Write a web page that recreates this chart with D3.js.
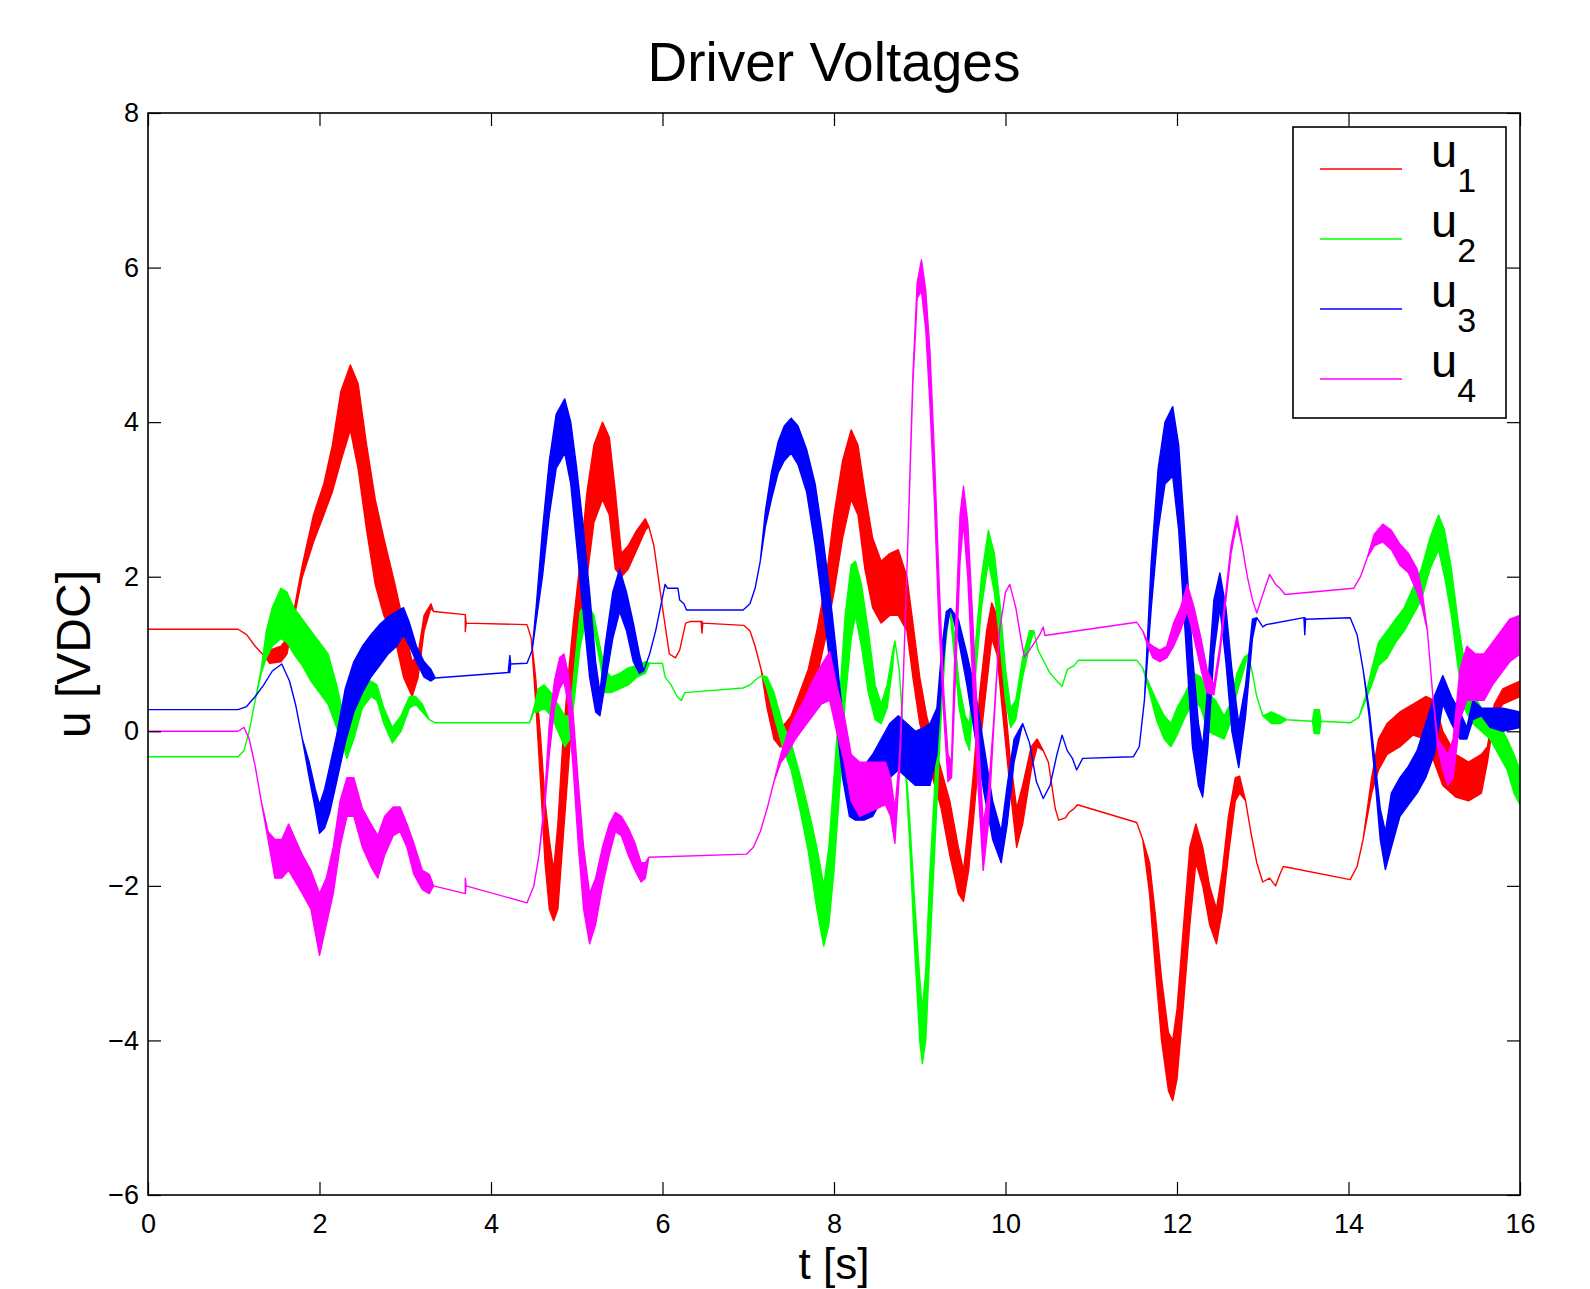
<!DOCTYPE html>
<html>
<head>
<meta charset="utf-8">
<script src="https://cdn.jsdelivr.net/npm/d3@7"></script>
<style>
  body { margin: 0; background: #fff; }
  svg { display: block; font-family: "Liberation Sans", Arial, Helvetica, sans-serif; }
</style>
</head>
<body>
<svg id="chart" width="1590" height="1289"></svg>
<script>
// Each sample is [t, low, high]: where the signal is a thin line low == high,
// where it chatters the two give the envelope of the band.
const u1 = [
  [0, 1.32, 1.32], [1.05, 1.32, 1.32], [1.15, 1.25, 1.25], [1.25, 1.1, 1.1], [1.35, 0.98, 0.98],
  [1.42, 0.88, 1.05], [1.55, 0.9, 1.1], [1.62, 1.0, 1.2], [1.7, 1.45, 1.55], [1.8, 2.0, 2.15],
  [1.93, 2.45, 2.8], [2.05, 2.8, 3.2], [2.15, 3.1, 3.7], [2.25, 3.5, 4.4], [2.36, 3.9, 4.74],
  [2.45, 3.4, 4.5], [2.55, 2.6, 3.7], [2.65, 1.9, 3.0], [2.75, 1.5, 2.5], [2.88, 1.2, 1.9],
  [2.98, 0.7, 1.4], [3.08, 0.45, 0.9], [3.15, 0.7, 1.0], [3.22, 1.3, 1.5], [3.3, 1.6, 1.65],
  [3.33, 1.55, 1.55], [3.7, 1.51, 1.51], [3.7, 1.29, 1.51], [3.71, 1.4, 1.4], [4.42, 1.38, 1.38],
  [4.47, 1.2, 1.2], [4.52, 0.4, 0.7], [4.58, -0.7, -0.1], [4.63, -1.7, -0.9], [4.68, -2.3, -1.4],
  [4.73, -2.45, -1.8], [4.78, -2.3, -1.2], [4.84, -1.4, -0.1], [4.9, -0.5, 0.7], [4.96, 0.4, 1.4],
  [5.04, 1.2, 2.2], [5.12, 2.0, 3.1], [5.2, 2.7, 3.7], [5.3, 3.0, 4.0], [5.38, 2.8, 3.8],
  [5.45, 2.1, 3.1], [5.52, 2.0, 2.3], [5.6, 2.1, 2.4], [5.7, 2.35, 2.6], [5.8, 2.6, 2.75],
  [5.84, 2.65, 2.65], [5.9, 2.4, 2.4], [6.0, 1.6, 1.6], [6.08, 1.0, 1.0], [6.15, 0.95, 0.95],
  [6.2, 1.05, 1.05], [6.27, 1.4, 1.4], [6.32, 1.42, 1.42], [6.45, 1.42, 1.42], [6.46, 1.27, 1.42],
  [6.47, 1.4, 1.4], [6.95, 1.37, 1.37], [7.02, 1.3, 1.3], [7.08, 1.1, 1.1], [7.15, 0.8, 0.8],
  [7.22, 0.3, 0.5], [7.3, -0.1, 0.2], [7.37, -0.2, 0.05], [7.43, -0.2, 0.1], [7.5, -0.05, 0.2],
  [7.6, 0.1, 0.5], [7.7, 0.35, 0.8], [7.8, 0.7, 1.3], [7.9, 1.2, 1.9], [8.0, 1.8, 2.8],
  [8.1, 2.5, 3.5], [8.2, 3.0, 3.9], [8.28, 2.8, 3.7], [8.36, 2.1, 3.1], [8.45, 1.6, 2.5],
  [8.55, 1.4, 2.2], [8.65, 1.5, 2.3], [8.75, 1.5, 2.35], [8.85, 1.3, 2.0], [8.92, 0.7, 1.4],
  [9.0, 0.1, 0.7], [9.08, -0.2, 0.2], [9.15, -0.6, -0.1], [9.25, -1.0, -0.5], [9.35, -1.6, -0.9],
  [9.45, -2.1, -1.5], [9.51, -2.2, -1.8], [9.57, -1.8, -1.2], [9.63, -1.1, -0.5], [9.7, -0.2, 0.5],
  [9.78, 0.6, 1.3], [9.84, 1.2, 1.66], [9.9, 1.0, 1.5], [9.97, 0.2, 0.7], [10.05, -0.7, -0.3],
  [10.13, -1.5, -1.0], [10.2, -1.2, -0.7], [10.3, -0.5, -0.2], [10.37, -0.2, -0.1], [10.44, -0.25, -0.25],
  [10.5, -0.4, -0.4], [10.58, -1.0, -1.0], [10.62, -1.15, -1.15], [10.7, -1.12, -1.12], [10.74, -1.05, -1.05],
  [10.8, -1.0, -1.0], [10.84, -0.95, -0.95], [11.53, -1.18, -1.18], [11.6, -1.4, -1.4], [11.68, -2.1, -1.7],
  [11.75, -3.1, -2.4], [11.82, -4.0, -3.2], [11.9, -4.65, -3.9], [11.95, -4.78, -4.0], [12.0, -4.5, -3.6],
  [12.07, -3.6, -2.6], [12.15, -2.5, -1.5], [12.22, -1.7, -1.2], [12.3, -2.0, -1.5], [12.38, -2.5, -2.0],
  [12.46, -2.75, -2.3], [12.53, -2.3, -1.8], [12.6, -1.6, -1.1], [12.68, -0.9, -0.6], [12.73, -0.8, -0.58],
  [12.8, -0.9, -0.9], [12.86, -1.3, -1.3], [12.93, -1.7, -1.7], [13.0, -1.95, -1.95], [13.08, -1.9, -1.9],
  [13.15, -2.0, -2.0], [13.2, -1.85, -1.85], [13.24, -1.75, -1.75], [14.02, -1.92, -1.92], [14.1, -1.75, -1.75],
  [14.17, -1.4, -1.4], [14.22, -1.1, -1.0], [14.27, -0.8, -0.6], [14.35, -0.5, -0.1], [14.45, -0.3, 0.1],
  [14.6, -0.2, 0.25], [14.75, -0.05, 0.35], [14.9, -0.1, 0.45], [15.0, -0.4, 0.4], [15.1, -0.7, 0.0],
  [15.25, -0.85, -0.3], [15.4, -0.9, -0.4], [15.55, -0.8, -0.3], [15.62, -0.4, -0.2], [15.7, 0.2, 0.35],
  [15.8, 0.35, 0.55], [15.9, 0.4, 0.6], [16.0, 0.45, 0.65]
];

const u2 = [
  [0, -0.33, -0.33], [1.05, -0.33, -0.33], [1.12, -0.25, -0.25], [1.18, 0.0, 0.0], [1.25, 0.4, 0.4],
  [1.32, 0.75, 0.8], [1.38, 0.95, 1.3], [1.45, 1.1, 1.6], [1.55, 1.2, 1.85], [1.62, 1.15, 1.8],
  [1.7, 1.0, 1.6], [1.8, 0.85, 1.45], [1.9, 0.65, 1.3], [2.0, 0.5, 1.15], [2.1, 0.35, 1.0],
  [2.2, 0.05, 0.6], [2.28, -0.2, 0.2], [2.32, -0.35, 0.0], [2.4, -0.1, 0.3], [2.5, 0.3, 0.55],
  [2.6, 0.45, 0.65], [2.67, 0.4, 0.6], [2.75, 0.1, 0.3], [2.85, -0.15, 0.05], [2.95, 0.0, 0.2],
  [3.05, 0.3, 0.45], [3.12, 0.35, 0.45], [3.2, 0.25, 0.35], [3.28, 0.15, 0.15], [3.35, 0.11, 0.11],
  [4.45, 0.11, 0.11], [4.5, 0.25, 0.3], [4.55, 0.25, 0.55], [4.62, 0.3, 0.6], [4.7, 0.2, 0.5],
  [4.78, 0.0, 0.35], [4.86, -0.2, 0.2], [4.92, -0.1, 0.2], [4.98, 0.5, 0.9], [5.04, 1.1, 1.55],
  [5.12, 1.5, 1.67], [5.2, 1.3, 1.5], [5.27, 0.9, 1.1], [5.33, 0.5, 0.8], [5.4, 0.5, 0.7],
  [5.5, 0.55, 0.75], [5.6, 0.6, 0.82], [5.7, 0.7, 0.85], [5.8, 0.75, 0.9], [5.85, 0.88, 0.88],
  [6.0, 0.88, 0.88], [6.03, 0.7, 0.7], [6.1, 0.6, 0.6], [6.17, 0.45, 0.45], [6.22, 0.4, 0.4],
  [6.26, 0.5, 0.5], [6.94, 0.56, 0.56], [7.02, 0.6, 0.6], [7.1, 0.68, 0.68], [7.16, 0.72, 0.72],
  [7.22, 0.55, 0.7], [7.3, 0.2, 0.5], [7.4, -0.2, 0.1], [7.5, -0.5, -0.15], [7.6, -1.0, -0.55],
  [7.7, -1.55, -1.0], [7.8, -2.3, -1.5], [7.88, -2.78, -2.0], [7.94, -2.5, -1.5], [8.0, -1.8, -0.6],
  [8.07, -0.7, 0.5], [8.13, 0.4, 1.5], [8.2, 1.2, 2.15], [8.25, 1.5, 2.2], [8.32, 1.1, 1.9],
  [8.4, 0.5, 1.3], [8.48, 0.15, 0.6], [8.55, 0.1, 0.35], [8.62, 0.3, 0.6], [8.68, 0.8, 1.0],
  [8.71, 1.17, 1.17], [8.76, 0.8, 0.8], [8.82, -0.2, -0.2], [8.88, -1.4, -1.1], [8.94, -2.8, -2.2],
  [9.0, -4.0, -3.2], [9.03, -4.3, -3.6], [9.07, -4.0, -3.1], [9.12, -2.8, -1.8], [9.18, -1.4, -0.6],
  [9.24, 0.0, 0.6], [9.3, 1.1, 1.45], [9.35, 1.59, 1.59], [9.4, 1.0, 1.3], [9.46, 0.3, 0.6],
  [9.53, -0.1, 0.2], [9.58, -0.25, 0.1], [9.64, 0.6, 1.0], [9.72, 1.6, 2.0], [9.8, 2.2, 2.6],
  [9.87, 1.8, 2.3], [9.94, 1.1, 1.6], [10.0, 0.4, 0.8], [10.06, 0.05, 0.3], [10.12, 0.15, 0.4],
  [10.2, 0.7, 0.95], [10.28, 1.1, 1.3], [10.33, 1.3, 1.3], [10.38, 1.05, 1.05], [10.45, 0.9, 0.9],
  [10.52, 0.75, 0.75], [10.6, 0.65, 0.65], [10.66, 0.58, 0.58], [10.72, 0.8, 0.8], [10.8, 0.85, 0.85],
  [10.85, 0.92, 0.92], [11.53, 0.92, 0.92], [11.6, 0.82, 0.82], [11.68, 0.5, 0.6], [11.76, 0.15, 0.4],
  [11.85, -0.1, 0.2], [11.93, -0.2, 0.1], [12.0, -0.05, 0.3], [12.1, 0.2, 0.5], [12.2, 0.4, 0.75],
  [12.28, 0.3, 0.7], [12.36, 0.0, 0.5], [12.45, -0.05, 0.4], [12.55, -0.1, 0.2], [12.62, 0.1, 0.35],
  [12.7, 0.5, 0.75], [12.78, 0.8, 0.95], [12.83, 1.0, 1.0], [12.88, 0.75, 0.75], [12.93, 0.45, 0.45],
  [13.0, 0.2, 0.2], [13.1, 0.1, 0.25], [13.2, 0.1, 0.2], [13.28, 0.15, 0.15], [13.58, 0.13, 0.13],
  [13.6, -0.03, 0.28], [13.66, -0.03, 0.28], [13.68, 0.13, 0.13], [14.02, 0.11, 0.11], [14.12, 0.18, 0.18],
  [14.2, 0.4, 0.45], [14.27, 0.6, 0.8], [14.35, 0.85, 1.15], [14.45, 0.95, 1.3], [14.55, 1.15, 1.45],
  [14.65, 1.3, 1.6], [14.75, 1.5, 1.85], [14.85, 1.7, 2.1], [14.95, 2.1, 2.5], [15.05, 2.35, 2.8],
  [15.12, 2.0, 2.6], [15.2, 1.5, 2.1], [15.28, 0.8, 1.4], [15.35, 0.3, 0.9], [15.45, 0.1, 0.5],
  [15.55, 0.0, 0.3], [15.65, -0.1, 0.2], [15.75, -0.3, 0.1], [15.85, -0.5, -0.1], [15.93, -0.8, -0.3],
  [16.0, -0.95, -0.5]
];

const u3 = [
  [0, 0.28, 0.28], [1.05, 0.28, 0.28], [1.15, 0.32, 0.32], [1.25, 0.45, 0.45], [1.35, 0.6, 0.6],
  [1.45, 0.78, 0.78], [1.56, 0.87, 0.87], [1.65, 0.65, 0.65], [1.72, 0.35, 0.35], [1.8, -0.1, -0.1],
  [1.88, -0.6, -0.4], [1.95, -1.0, -0.75], [2.0, -1.32, -0.95], [2.06, -1.25, -0.75], [2.12, -1.05, -0.45],
  [2.2, -0.65, -0.05], [2.3, -0.15, 0.55], [2.4, 0.25, 0.9], [2.5, 0.5, 1.1], [2.6, 0.7, 1.25],
  [2.7, 0.85, 1.38], [2.8, 1.0, 1.48], [2.9, 1.1, 1.55], [2.98, 1.25, 1.6], [3.05, 1.1, 1.4],
  [3.13, 0.9, 1.1], [3.22, 0.7, 0.9], [3.3, 0.65, 0.8], [3.35, 0.69, 0.69], [4.2, 0.76, 0.76],
  [4.22, 0.76, 0.98], [4.23, 0.87, 0.87], [4.42, 0.88, 0.88], [4.48, 1.05, 1.05], [4.53, 1.45, 1.65],
  [4.6, 2.0, 2.6], [4.68, 2.8, 3.5], [4.76, 3.4, 4.1], [4.86, 3.6, 4.3], [4.93, 3.2, 4.0],
  [5.0, 2.4, 3.4], [5.07, 1.6, 2.7], [5.15, 0.7, 1.8], [5.22, 0.25, 0.9], [5.27, 0.2, 0.5],
  [5.33, 0.6, 1.1], [5.42, 1.2, 1.8], [5.5, 1.55, 2.1], [5.58, 1.3, 1.8], [5.66, 0.9, 1.4],
  [5.73, 0.75, 1.0], [5.78, 0.78, 0.78], [5.85, 1.0, 1.0], [5.92, 1.3, 1.3], [5.97, 1.57, 1.57],
  [6.03, 1.9, 1.9], [6.06, 1.85, 1.85], [6.18, 1.85, 1.85], [6.2, 1.7, 1.7], [6.25, 1.65, 1.65],
  [6.28, 1.57, 1.57], [6.94, 1.57, 1.57], [7.02, 1.65, 1.65], [7.08, 1.85, 1.85], [7.14, 2.2, 2.2],
  [7.2, 2.65, 2.85], [7.27, 3.0, 3.35], [7.35, 3.35, 3.75], [7.42, 3.5, 3.95], [7.5, 3.6, 4.05],
  [7.58, 3.45, 3.95], [7.68, 3.1, 3.65], [7.78, 2.4, 3.2], [7.86, 1.7, 2.6], [7.94, 1.0, 1.9],
  [8.02, 0.2, 1.1], [8.1, -0.6, 0.2], [8.18, -1.1, -0.4], [8.25, -1.15, -0.5], [8.35, -1.15, -0.45],
  [8.45, -1.1, -0.3], [8.55, -0.9, -0.1], [8.65, -0.6, 0.1], [8.75, -0.5, 0.2], [8.85, -0.6, 0.1],
  [8.95, -0.7, 0.0], [9.05, -0.7, 0.05], [9.12, -0.7, 0.1], [9.2, -0.3, 0.3], [9.26, 0.7, 1.1],
  [9.31, 1.3, 1.55], [9.36, 1.59, 1.59], [9.45, 1.2, 1.45], [9.55, 0.6, 1.0], [9.65, -0.1, 0.5],
  [9.75, -0.8, -0.2], [9.85, -1.4, -0.9], [9.95, -1.7, -1.3], [10.02, -1.2, -0.7], [10.1, -0.4, -0.1],
  [10.2, 0.1, 0.1], [10.28, -0.15, -0.15], [10.36, -0.65, -0.65], [10.44, -0.87, -0.87], [10.52, -0.7, -0.7],
  [10.6, -0.3, -0.3], [10.66, -0.05, -0.05], [10.72, -0.25, -0.25], [10.78, -0.35, -0.35], [10.83, -0.5, -0.5],
  [10.9, -0.35, -0.35], [11.49, -0.33, -0.33], [11.56, -0.2, -0.2], [11.62, 0.4, 0.4], [11.7, 1.6, 2.2],
  [11.78, 2.6, 3.4], [11.86, 3.2, 4.0], [11.95, 3.3, 4.2], [12.02, 2.6, 3.7], [12.1, 1.2, 2.4],
  [12.18, -0.2, 1.0], [12.25, -0.7, 0.1], [12.3, -0.85, -0.2], [12.36, -0.2, 0.6], [12.43, 1.0, 1.7],
  [12.5, 1.6, 2.05], [12.57, 0.9, 1.6], [12.64, 0.0, 0.8], [12.72, -0.47, 0.1], [12.8, 0.2, 0.6],
  [12.88, 1.2, 1.45], [12.93, 1.47, 1.47], [13.0, 1.35, 1.35], [13.04, 1.38, 1.38], [13.48, 1.47, 1.47],
  [13.49, 1.25, 1.47], [13.5, 1.45, 1.45], [14.02, 1.47, 1.47], [14.1, 1.25, 1.25], [14.17, 0.8, 0.8],
  [14.24, 0.2, 0.3], [14.3, -0.5, -0.3], [14.37, -1.4, -1.0], [14.43, -1.79, -1.3], [14.5, -1.5, -0.8],
  [14.6, -1.1, -0.6], [14.7, -0.95, -0.45], [14.8, -0.8, -0.25], [14.9, -0.6, 0.1], [15.0, -0.3, 0.45],
  [15.1, 0.35, 0.72], [15.2, 0.1, 0.45], [15.3, -0.1, 0.25], [15.38, -0.1, 0.05], [15.45, 0.15, 0.4],
  [15.55, 0.2, 0.3], [15.65, 0.05, 0.3], [15.8, 0.0, 0.3], [16.0, 0.05, 0.25]
];

const u4 = [
  [0, 0.0, 0.0], [1.05, 0.0, 0.0], [1.12, 0.05, 0.05], [1.18, -0.1, -0.1], [1.25, -0.45, -0.45],
  [1.32, -0.9, -0.9], [1.4, -1.4, -1.3], [1.48, -1.9, -1.4], [1.56, -1.9, -1.4], [1.64, -1.8, -1.2],
  [1.72, -1.95, -1.4], [1.8, -2.1, -1.6], [1.9, -2.3, -1.8], [2.0, -2.9, -2.1], [2.08, -2.5, -1.9],
  [2.16, -2.1, -1.5], [2.24, -1.5, -0.9], [2.32, -1.1, -0.6], [2.4, -1.1, -0.6], [2.5, -1.5, -1.0],
  [2.6, -1.75, -1.2], [2.68, -1.9, -1.35], [2.76, -1.6, -1.1], [2.86, -1.35, -0.98], [2.94, -1.3, -0.98],
  [3.02, -1.5, -1.2], [3.1, -1.85, -1.45], [3.2, -2.05, -1.8], [3.28, -2.1, -1.85], [3.33, -2.0, -2.0],
  [3.7, -2.1, -2.1], [3.7, -2.1, -1.9], [3.71, -2.0, -2.0], [4.42, -2.22, -2.22], [4.5, -2.0, -2.0],
  [4.56, -1.6, -1.6], [4.62, -1.05, -0.95], [4.68, -0.3, 0.1], [4.74, 0.3, 0.65], [4.8, 0.55, 0.95],
  [4.85, 0.65, 1.0], [4.9, 0.35, 0.75], [4.96, -0.5, 0.2], [5.02, -1.5, -0.7], [5.08, -2.3, -1.5],
  [5.15, -2.75, -2.1], [5.22, -2.5, -1.9], [5.3, -2.0, -1.5], [5.38, -1.6, -1.2], [5.45, -1.3, -1.05],
  [5.52, -1.35, -1.1], [5.6, -1.6, -1.25], [5.68, -1.8, -1.45], [5.75, -1.95, -1.7], [5.8, -1.9, -1.7],
  [5.84, -1.63, -1.63], [6.98, -1.59, -1.59], [7.06, -1.5, -1.5], [7.14, -1.3, -1.3], [7.22, -1.0, -1.0],
  [7.3, -0.65, -0.65], [7.38, -0.4, -0.3], [7.45, -0.3, -0.05], [7.55, -0.1, 0.2], [7.65, 0.05, 0.4],
  [7.75, 0.2, 0.65], [7.85, 0.35, 0.85], [7.95, 0.4, 1.03], [8.03, 0.0, 0.6], [8.12, -0.4, 0.2],
  [8.2, -0.9, -0.3], [8.3, -1.1, -0.4], [8.4, -1.05, -0.4], [8.5, -1.0, -0.4], [8.6, -0.95, -0.4],
  [8.66, -1.1, -0.6], [8.71, -1.45, -1.0], [8.76, -0.6, -0.4], [8.81, 0.75, 0.75], [8.86, 2.4, 2.4],
  [8.92, 4.5, 4.6], [8.97, 5.6, 5.8], [9.02, 5.7, 6.1], [9.07, 5.2, 5.7], [9.12, 4.2, 4.9],
  [9.17, 3.0, 3.6], [9.22, 1.5, 2.1], [9.28, 0.2, 0.5], [9.33, -0.65, -0.3], [9.37, -0.6, -0.4],
  [9.42, 0.8, 1.4], [9.47, 2.2, 2.8], [9.51, 2.7, 3.17], [9.56, 2.0, 2.7], [9.62, 0.6, 1.4],
  [9.68, -0.7, 0.0], [9.74, -1.8, -1.2], [9.8, -1.2, -0.8], [9.86, 0.0, 0.1], [9.93, 1.3, 1.3],
  [10.0, 1.8, 1.8], [10.05, 1.9, 1.9], [10.12, 1.6, 1.6], [10.18, 1.2, 1.2], [10.22, 0.96, 0.96],
  [10.28, 1.05, 1.05], [10.34, 1.15, 1.15], [10.4, 1.25, 1.25], [10.44, 1.35, 1.35], [10.46, 1.24, 1.24],
  [11.53, 1.41, 1.41], [11.6, 1.3, 1.3], [11.66, 1.1, 1.15], [11.72, 0.95, 1.1], [11.8, 0.9, 1.05],
  [11.88, 0.95, 1.1], [11.96, 1.1, 1.4], [12.04, 1.3, 1.6], [12.12, 1.55, 1.9], [12.2, 1.2, 1.6],
  [12.28, 0.8, 1.2], [12.35, 0.5, 0.8], [12.43, 0.47, 0.6], [12.5, 1.0, 1.1], [12.57, 1.7, 1.8],
  [12.63, 2.3, 2.4], [12.7, 2.7, 2.79], [12.76, 2.4, 2.4], [12.82, 2.0, 2.0], [12.88, 1.7, 1.7],
  [12.93, 1.53, 1.53], [12.98, 1.7, 1.7], [13.04, 1.9, 1.9], [13.08, 2.03, 2.03], [13.15, 1.9, 1.9],
  [13.2, 1.85, 1.85], [13.26, 1.77, 1.77], [14.06, 1.85, 1.85], [14.14, 2.0, 2.0], [14.22, 2.25, 2.25],
  [14.3, 2.4, 2.55], [14.4, 2.45, 2.68], [14.5, 2.35, 2.6], [14.6, 2.15, 2.42], [14.7, 2.05, 2.3],
  [14.8, 1.8, 2.1], [14.86, 1.6, 1.8], [14.92, 1.3, 1.3], [14.98, 0.5, 0.5], [15.04, -0.2, -0.1],
  [15.1, -0.5, -0.2], [15.16, -0.7, -0.3], [15.22, -0.6, -0.1], [15.3, 0.15, 0.8], [15.38, 0.4, 1.1],
  [15.48, 0.4, 1.0], [15.58, 0.4, 1.0], [15.68, 0.6, 1.15], [15.78, 0.75, 1.3], [15.88, 0.9, 1.45],
  [16.0, 1.0, 1.5]
];

const seriesData = [u1, u2, u3, u4];
const seriesSubs = ['1', '2', '3', '4'];
const seriesColors = ['#ff0000', '#00ff00', '#0000ff', '#ff00ff'];
const xTicks = [0, 2, 4, 6, 8, 10, 12, 14, 16];
const yTicks = [-6, -4, -2, 0, 2, 4, 6, 8];

const plot = {left: 148, right: 1520, top: 113, bottom: 1195};
const tickLen = 13;

const svg = d3.select('#chart');

const x = d3.scaleLinear().domain([0, 16]).range([plot.left, plot.right]);
const y = d3.scaleLinear().domain([-6, 8]).range([plot.bottom, plot.top]);

svg.append('rect').attr('width', 1590).attr('height', 1289).attr('fill', '#fff');

svg.append('clipPath').attr('id', 'plot-clip')
  .append('rect')
  .attr('x', plot.left).attr('y', plot.top)
  .attr('width', plot.right - plot.left).attr('height', plot.bottom - plot.top);

// bands and lines, drawn in MATLAB order so u4 ends up on top
const area = d3.area()
  .x(d => x(d[0]))
  .y0(d => y(d[1]))
  .y1(d => y(d[2]));

const dataG = svg.append('g').attr('clip-path', 'url(#plot-clip)');
seriesData.forEach((series, i) => {
  dataG.append('path')
    .attr('d', area(series))
    .attr('fill', seriesColors[i])
    .attr('stroke', seriesColors[i])
    .attr('stroke-width', 1.4)
    .attr('stroke-linejoin', 'round');
});

// axes: ticks point inward on all four sides, labels only bottom and left
function styleAxis(g) {
  g.select('.domain').remove();
  g.selectAll('.tick line').attr('stroke', '#000').attr('stroke-width', 1.2);
  g.selectAll('.tick text').attr('fill', '#000').attr('font-size', 27)
    .attr('font-family', '"Liberation Sans", Arial, Helvetica, sans-serif');
}

svg.append('g')
  .attr('transform', `translate(0,${plot.bottom})`)
  .call(d3.axisBottom(x).tickValues(xTicks).tickSizeInner(-tickLen).tickSizeOuter(0).tickPadding(19))
  .call(styleAxis);

svg.append('g')
  .attr('transform', `translate(0,${plot.top})`)
  .call(d3.axisTop(x).tickValues(xTicks).tickSizeInner(-tickLen).tickSizeOuter(0).tickFormat(''))
  .call(styleAxis);

svg.append('g')
  .attr('transform', `translate(${plot.left},0)`)
  .call(d3.axisLeft(y).tickValues(yTicks).tickSizeInner(-tickLen).tickSizeOuter(0).tickPadding(9))
  .call(styleAxis);

svg.append('g')
  .attr('transform', `translate(${plot.right},0)`)
  .call(d3.axisRight(y).tickValues(yTicks).tickSizeInner(-tickLen).tickSizeOuter(0).tickFormat(''))
  .call(styleAxis);

svg.append('rect')
  .attr('x', plot.left).attr('y', plot.top)
  .attr('width', plot.right - plot.left).attr('height', plot.bottom - plot.top)
  .attr('fill', 'none').attr('stroke', '#000').attr('stroke-width', 1.6);

// titles
svg.append('text')
  .attr('x', (plot.left + plot.right) / 2).attr('y', 81)
  .attr('text-anchor', 'middle').attr('font-size', 55)
  .text('Driver Voltages');

// squeezed between the tick labels and the bottom edge of the page
svg.append('text')
  .attr('x', (plot.left + plot.right) / 2).attr('y', 1279)
  .attr('text-anchor', 'middle').attr('font-size', 44)
  .text('t [s]');

svg.append('text')
  .attr('transform', `translate(90,${(plot.top + plot.bottom) / 2}) rotate(-90)`)
  .attr('text-anchor', 'middle').attr('font-size', 48)
  .text('u [VDC]');

// legend
const legend = svg.append('g');
legend.append('rect')
  .attr('x', 1293).attr('y', 127).attr('width', 213).attr('height', 291)
  .attr('fill', '#fff').attr('stroke', '#000').attr('stroke-width', 1.6);

seriesSubs.forEach((sub, i) => {
  const cy = 169 + i * 70;
  legend.append('line')
    .attr('x1', 1320).attr('x2', 1402).attr('y1', cy).attr('y2', cy)
    .attr('stroke', seriesColors[i]).attr('stroke-width', 1.3);
  const t = legend.append('text')
    .attr('x', 1431).attr('y', cy - 2).attr('font-size', 47);
  t.append('tspan').text('u');
  t.append('tspan').attr('dy', 25).attr('font-size', 34).text(sub);
});
</script>
</body>
</html>
